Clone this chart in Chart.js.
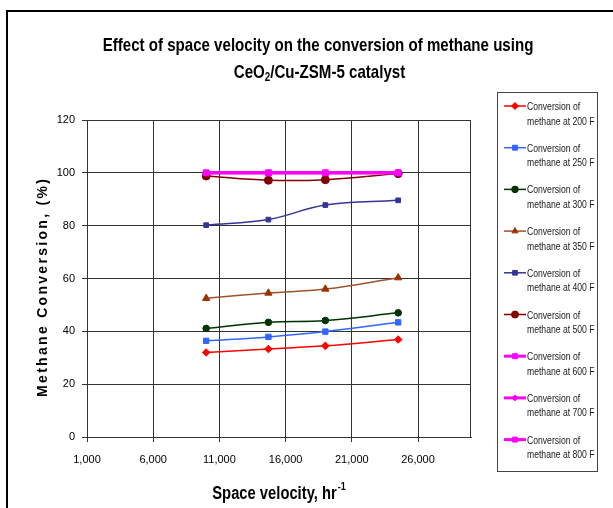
<!DOCTYPE html>
<html><head><meta charset="utf-8">
<script src="https://cdn.jsdelivr.net/npm/chart.js@4.4.1/dist/chart.umd.min.js"></script>
<style>html,body{margin:0;padding:0;background:#fff;}canvas{display:block;}</style>
</head><body>
<canvas id="c" width="613" height="508"></canvas>
<script>
// ---- data ----
const xValues = [10000, 14700, 19000, 24500];
const conv200 = [32.0, 33.3, 34.5, 36.9];
const conv250 = [36.4, 37.9, 39.9, 43.4];
const conv300 = [41.1, 43.4, 44.1, 47.0];
const conv350 = [52.5, 54.5, 56.0, 60.3];
const conv400 = [80.2, 82.3, 87.8, 89.6];
const conv500 = [98.8, 97.2, 97.4, 99.7];
const conv600 = [100, 100, 100, 100];
const conv700 = [100, 100, 100, 100];
const conv800 = [100, 100, 100, 100];
const seriesLabels = ['Conversion of methane at 200 F','Conversion of methane at 250 F','Conversion of methane at 300 F',
  'Conversion of methane at 350 F','Conversion of methane at 400 F','Conversion of methane at 500 F',
  'Conversion of methane at 600 F','Conversion of methane at 700 F','Conversion of methane at 800 F'];
const xTickValues = [1000, 6000, 11000, 16000, 21000, 26000];
const xTickLabels = ['1,000', '6,000', '11,000', '16,000', '21,000', '26,000'];
const yTickValues = [0, 20, 40, 60, 80, 100, 120];
const yTickLabels = ['0', '20', '40', '60', '80', '100', '120'];
const titleLine1 = 'Effect of space velocity on the conversion of methane using';
const titleLine2 = ['CeO', '2', '/Cu-ZSM-5 catalyst'];
const xTitle = ['Space velocity, hr', '-1'];
const yTitle = 'Methane Conversion, (%)';

// ---- fonts ----
function fontAvailable(name){
  const c = document.createElement('canvas').getContext('2d');
  const t = 'mmmmmmmmmwwwlli1,000 Conversion';
  c.font = '20px monospace'; const a = c.measureText(t).width;
  c.font = '20px "' + name + '", monospace'; const b = c.measureText(t).width;
  return Math.abs(a - b) > 0.5;
}
const NARROW = fontAvailable('Liberation Sans Narrow');
const FAM = NARROW ? '"Liberation Sans Narrow", "Liberation Sans", Arial, sans-serif' : '"Liberation Sans", Arial, sans-serif';
const SX = NARROW ? 1 : 0.82;
const WIDE = '"Liberation Sans", Arial, sans-serif';

function drawTxt(ctx, s, x, y, font, align, color){
  ctx.save(); ctx.font = font; ctx.fillStyle = color || '#000';
  ctx.textBaseline = 'alphabetic'; ctx.textAlign = align || 'left';
  ctx.translate(x, y); ctx.scale(SX, 1); ctx.fillText(s, 0, 0); ctx.restore();
}
function txtW(ctx, s, font){ ctx.save(); ctx.font = font; const w = ctx.measureText(s).width * SX; ctx.restore(); return w; }

function mk(label, data, color, ptColor, style, radius, width){
  return { label, data: xValues.map((x, i) => ({x, y: data[i]})), borderColor: color,
    backgroundColor: ptColor, pointBackgroundColor: ptColor, pointBorderColor: ptColor,
    pointStyle: style, pointRadius: radius, pointBorderWidth: 1, borderWidth: width,
    tension: 0.4, fill: false };
}
const datasets = [
  mk(seriesLabels[0], conv200, '#FF0000', '#FF0000', 'rectRot', 3.8, 1.5),
  mk(seriesLabels[1], conv250, '#3366FF', '#3366FF', 'rect', 3.8, 1.5),
  mk(seriesLabels[2], conv300, '#003300', '#003300', 'circle', 3.3, 1.5),
  mk(seriesLabels[3], conv350, '#A0522D', '#993300', 'triangle', 4.2, 1.5),
  mk(seriesLabels[4], conv400, '#333399', '#333399', 'rect', 3.3, 1.5),
  mk(seriesLabels[5], conv500, '#800000', '#800000', 'circle', 4, 1.5),
  mk(seriesLabels[6], conv600, '#FF00FF', '#FF00FF', 'rect', 4, 3),
  mk(seriesLabels[7], conv700, '#FF00FF', '#FF00FF', 'rectRot', 3, 3),
  mk(seriesLabels[8], conv800, '#FF00FF', '#FF00FF', 'rect', 4, 3)
];
datasets.forEach((d, i) => d.order = datasets.length - i);

function drawMarker(ctx, style, r, x, y){
  if (Chart.helpers && Chart.helpers.drawPoint){
    Chart.helpers.drawPoint(ctx, {pointStyle: style, radius: r, rotation: 0, borderWidth: 1}, x, y);
    return;
  }
  ctx.beginPath(); ctx.arc(x, y, r, 0, Math.PI*2); ctx.fill();
}

const decor = {
  id: 'decor',
  beforeDraw(chart){
    const ctx = chart.ctx;
    ctx.save();
    ctx.fillStyle = '#fff'; ctx.fillRect(0, 0, chart.width, chart.height);
    ctx.strokeStyle = '#000'; ctx.lineWidth = 2;
    ctx.beginPath(); ctx.moveTo(7, 510); ctx.lineTo(7, 11); ctx.lineTo(615, 11); ctx.stroke();
    ctx.restore();
  },
  afterDraw(chart){
    const ctx = chart.ctx, a = chart.chartArea;
    ctx.save();
    // right border of plot area
    ctx.strokeStyle = '#333'; ctx.lineWidth = 1;
    ctx.beginPath(); ctx.moveTo(Math.round(a.right) - 0.5, a.top); ctx.lineTo(Math.round(a.right) - 0.5, a.bottom); ctx.stroke();
    // title
    const tf = 'bold 18.4px ' + FAM, tfs = 'bold 12px ' + FAM;
    drawTxt(ctx, titleLine1, 318, 51, tf, 'center');
    const w0 = txtW(ctx, titleLine2[0], tf), w1 = txtW(ctx, titleLine2[1], tfs), w2 = txtW(ctx, titleLine2[2], tf);
    let sx = 319.5 - (w0 + w1 + w2) / 2;
    drawTxt(ctx, titleLine2[0], sx, 77.5, tf); drawTxt(ctx, titleLine2[1], sx + w0, 80.5, tfs); drawTxt(ctx, titleLine2[2], sx + w0 + w1, 77.5, tf);
    // x title
    const xf = 'bold 18px ' + FAM, xfs = 'bold 11px ' + FAM;
    const xw0 = txtW(ctx, xTitle[0], xf), xw1 = txtW(ctx, xTitle[1], xfs);
    let xs = (a.left + a.right) / 2 - (xw0 + xw1 + 1) / 2;
    drawTxt(ctx, xTitle[0], xs, 499, xf); drawTxt(ctx, xTitle[1], xs + xw0 + 1, 490, xfs);
    // y title with letter spacing
    ctx.save();
    ctx.font = 'bold 14px ' + WIDE; ctx.fillStyle = '#000';
    ctx.translate(43, 288); ctx.rotate(-Math.PI / 2);
    const chars = [...yTitle], sp = 2.3;
    const ws = chars.map(ch => ctx.measureText(ch).width);
    const tot = ws.reduce((p, q) => p + q, 0) + sp * (chars.length - 1);
    let px = -tot / 2; ctx.textBaseline = 'middle';
    chars.forEach((ch, i) => { ctx.fillText(ch, px, 0); px += ws[i] + sp; });
    ctx.restore();
    // legend
    ctx.strokeStyle = '#444'; ctx.lineWidth = 1;
    ctx.strokeRect(497.5, 92.5, 100, 379);
    const lf = '10.5px ' + FAM;
    chart.data.datasets.forEach((d, i) => {
      const cy = 106 + i * 41.7;
      ctx.save();
      ctx.strokeStyle = d.borderColor; ctx.lineWidth = d.borderWidth;
      ctx.beginPath(); ctx.moveTo(504, cy); ctx.lineTo(526, cy); ctx.stroke();
      ctx.fillStyle = d.pointBackgroundColor; ctx.strokeStyle = d.pointBorderColor; ctx.lineWidth = 1;
      drawMarker(ctx, d.pointStyle, Math.min(d.pointRadius, 3.5), 515, cy);
      ctx.restore();
      const parts = d.label.split(' methane');
      drawTxt(ctx, parts[0], 527, cy + 4, lf, 'left', '#1a1a1a');
      drawTxt(ctx, 'methane' + parts[1], 527, cy + 18.5, lf, 'left', '#1a1a1a');
    });
    ctx.restore();
  }
};

const tickFont = NARROW ? {family: FAM, size: 13.5} : {family: WIDE, size: 11};
new Chart(document.getElementById('c'), {
  type: 'line',
  data: { datasets },
  options: {
    responsive: false, animation: false, devicePixelRatio: 1,
    layout: { padding: { top: 120, right: 142, left: 0, bottom: 0 } },
    plugins: { legend: { display: false }, title: { display: false }, tooltip: { enabled: false } },
    scales: {
      x: {
        type: 'linear', min: 1000, max: 30000,
        afterBuildTicks: s => { s.ticks = xTickValues.map(v => ({ value: v })); },
        afterFit: s => { s.height = 71; },
        ticks: { callback: (v, i) => xTickLabels[i], font: tickFont, color: '#000', padding: 11, maxRotation: 0, autoSkip: false },
        grid: { color: '#333', lineWidth: 1, tickLength: 5, drawTicks: true, tickColor: '#333' },
        border: { color: '#333', width: 1 }
      },
      y: {
        min: 0, max: 120,
        afterBuildTicks: s => { s.ticks = yTickValues.map(v => ({ value: v })); },
        afterFit: s => { s.width = 87; },
        ticks: { callback: (v, i) => yTickLabels[i], font: tickFont, color: '#000', padding: 7, autoSkip: false },
        grid: { color: '#333', lineWidth: 1, tickLength: 5, drawTicks: true, tickColor: '#333' },
        border: { color: '#333', width: 1 }
      }
    }
  },
  plugins: [decor]
});
</script>
</body></html>
